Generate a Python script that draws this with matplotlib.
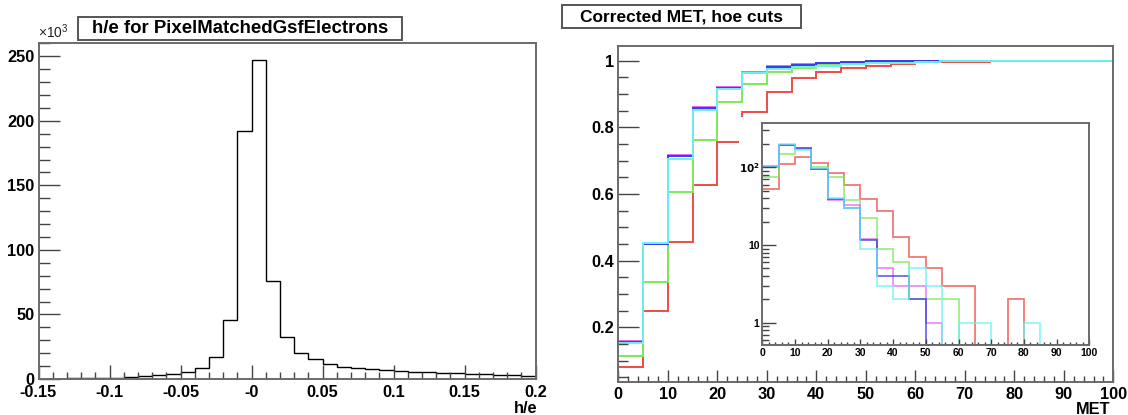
import numpy as np
import matplotlib.pyplot as plt
from matplotlib.patches import Rectangle
from matplotlib.ticker import MultipleLocator, LogLocator, NullFormatter

plt.rcParams['font.family'] = ['Liberation Sans', 'DejaVu Sans']
plt.rcParams['font.weight'] = 'bold'

# --- left panel: h/e histogram (x10^3 entries), 0.01 wide bins from -0.15 to 0.2
he_edges = np.round(np.arange(-0.15, 0.2001, 0.01), 3)
he_counts = [0, 0, 0.5, 0.5, 0.5, 0.6, 1.3, 2.0, 2.8, 3.6, 5.2, 8.8, 16.8, 46, 192,
             247, 75.6, 32.8, 19.9, 15.2, 11.6, 9.5, 8.8, 7.5, 6.7, 6.2, 5.4, 5.2,
             4.6, 4.4, 3.9, 3.6, 3.1, 2.8, 2.3]
he_xticks = [-0.15, -0.1, -0.05, 0, 0.05, 0.1, 0.15, 0.2]
he_xlabels = ['-0.15', '-0.1', '-0.05', '-0', '0.05', '0.1', '0.15', '0.2']

# --- right panel: MET, 5 GeV bins
met_edges = np.arange(0, 101, 5)
series = ['red', 'green', 'magenta', 'blue', 'cyan']
colors = {'red': '#ee4c46', 'green': '#7ee85c', 'magenta': '#e468f2',
          'blue': '#3a3aee', 'cyan': '#6cf2f2'}

# cumulative fraction (main plot)
cum_red = [0.080, 0.249, 0.455, 0.626, 0.755, 0.847, 0.905, 0.949, 0.967, 0.979,
           0.985, 0.990, 0.995, 0.996, 0.996, 1, 1, 1, 1, 1]
cum_green = [0.114, 0.335, 0.605, 0.762, 0.875, 0.931, 0.965, 0.978, 0.987, 0.992,
             0.995, 0.997, 1, 1, 1, 1, 1, 1, 1, 1]
cum_magenta = [0.158, 0.451, 0.717, 0.862, 0.920, 0.966, 0.983, 0.989, 0.993, 0.997,
               0.999, 1, 1, 1, 1, 1, 1, 1, 1, 1]
cum_blue = [0.157, 0.449, 0.714, 0.859, 0.917, 0.964, 0.980, 0.988, 0.993, 0.997,
            1, 1, 1, 1, 1, 1, 1, 1, 1, 1]
cum_cyan = [0.152, 0.452, 0.705, 0.853, 0.914, 0.962, 0.974, 0.980, 0.983, 0.990,
            0.994, 0.994, 0.996, 0.998, 0.998, 0.998, 1, 1, 1, 1]

# entries per bin (inset, log scale)
n_red = [53, 110, 135, 114, 85, 60, 39, 27, 12.7, 7, 5, 3, 3, 0, 0, 2, 0, 0, 0, 0]
n_green = [74, 147, 179, 102, 74, 38, 22, 9, 6, 2, 2, 2, 0, 0, 0, 0, 0, 0, 0, 0]
n_magenta = [105, 196, 172, 94, 38, 33, 12, 5, 3, 3, 1, 0, 0, 0, 0, 0, 0, 0, 0, 0]
n_blue = [102, 192, 176, 94, 39, 30, 11.6, 4, 4, 2, 0, 0, 0, 0, 0, 0, 0, 0, 0, 0]
n_cyan = [100, 198, 169, 99, 40, 30, 9, 3, 2, 5, 3, 0, 1, 1, 0, 0, 1, 0, 0, 0]

cum = {'red': cum_red, 'green': cum_green, 'magenta': cum_magenta,
       'blue': cum_blue, 'cyan': cum_cyan}
counts = {'red': n_red, 'green': n_green, 'magenta': n_magenta,
          'blue': n_blue, 'cyan': n_cyan}

W, H = 1128, 415
fig = plt.figure(figsize=(W / 100, H / 100), dpi=100)


def px_axes(x0, y0, x1, y1):
    # pixel box (top-left origin) -> figure axes
    return fig.add_axes([x0 / W, 1 - y1 / H, (x1 - x0) / W, (y1 - y0) / H])


def root_style(ax, fs):
    for s in ax.spines.values():
        s.set_color('#6a6a6a')
        s.set_linewidth(1.4)
    ax.tick_params(which='both', direction='in', top=False, right=False,
                   color='#444444', labelsize=fs, width=1.0)


# left panel
ax1 = px_axes(38.5, 43.3, 535.5, 379)
ax1.stairs(he_counts, he_edges, color='black', lw=1.0)
ax1.set_xlim(-0.15, 0.2)
ax1.set_ylim(0, 260)
root_style(ax1, 11.8)
ax1.set_xticks(he_xticks)
ax1.set_xticklabels(he_xlabels)
ax1.xaxis.set_minor_locator(MultipleLocator(0.01))
ax1.yaxis.set_major_locator(MultipleLocator(50))
ax1.yaxis.set_minor_locator(MultipleLocator(10))
ax1.tick_params(axis='x', which='major', length=10, pad=4)
ax1.tick_params(axis='x', which='minor', length=5)
ax1.tick_params(axis='y', which='major', length=15, pad=3)
ax1.tick_params(axis='y', which='minor', length=8)
fig.text(38 / W, 1 - 41 / H, r'$\mathregular{\times10^{3}}$', fontsize=10,
         ha='left', va='bottom', fontweight='normal', color='#222222')
fig.text(537 / W, 1 - 401 / H, 'h/e', fontsize=11.8, ha='right', va='top')

# right panel, main
ax2 = px_axes(618.3, 45.7, 1113.3, 381.7)
for name in series:
    ax2.stairs(cum[name], met_edges, baseline=None, color=colors[name], lw=1.4)
ax2.set_xlim(0, 100)
ax2.set_ylim(0.037, 1.045)
root_style(ax2, 11.8)
ax2.set_yticks([0.2, 0.4, 0.6, 0.8, 1.0])
ax2.set_yticklabels(['0.2', '0.4', '0.6', '0.8', '1'])
ax2.yaxis.set_minor_locator(MultipleLocator(0.05))
ax2.xaxis.set_major_locator(MultipleLocator(10))
ax2.xaxis.set_minor_locator(MultipleLocator(2))
ax2.tick_params(axis='x', which='major', length=9, pad=4)
ax2.tick_params(axis='x', which='minor', length=4)
ax2.tick_params(axis='y', which='major', length=15, pad=3)
ax2.tick_params(axis='y', which='minor', length=7.5)
fig.text(1110 / W, 1 - 402 / H, 'MET', fontsize=11.8, ha='right', va='top')

# white pad under the inset
pad = px_axes(739, 117, 1100, 362)
pad.set_facecolor('white')
pad.set_xticks([])
pad.set_yticks([])
for s in pad.spines.values():
    s.set_visible(False)

# inset, log scale
ax3 = px_axes(762.3, 123.3, 1089.3, 345)
ybot = 0.516
for name in series:
    vals = np.array(counts[name], dtype=float)
    vals = np.where(vals > 0, vals, ybot)
    ax3.stairs(vals, met_edges, baseline=None, color=colors[name], lw=1.3, alpha=0.75)
ax3.set_yscale('log')
ax3.set_xlim(0, 100)
ax3.set_ylim(ybot, 368)
root_style(ax3, 7.5)
ax3.set_yticks([1, 10, 100])
ax3.set_yticklabels(['1', '10', r'$\mathbf{10^{2}}$'])
ax3.yaxis.set_minor_locator(LogLocator(base=10, subs=np.arange(2, 10)))
ax3.yaxis.set_minor_formatter(NullFormatter())
ax3.xaxis.set_major_locator(MultipleLocator(10))
ax3.xaxis.set_minor_locator(MultipleLocator(2))
ax3.tick_params(axis='x', which='major', length=4, pad=2)
ax3.tick_params(axis='x', which='minor', length=2)
ax3.tick_params(axis='y', which='major', length=10, pad=2)
ax3.tick_params(axis='y', which='minor', length=5)

# title boxes
for (x0, y0, x1, y1), txt, fs in [((78, 17, 402, 40), 'h/e for PixelMatchedGsfElectrons', 13.4),
                                  ((562, 5, 801, 28), 'Corrected MET, hoe cuts', 12.5)]:
    fig.patches.append(Rectangle((x0 / W, 1 - y1 / H), (x1 - x0) / W, (y1 - y0) / H,
                                 transform=fig.transFigure, fill=False,
                                 edgecolor='#555555', lw=1.4))
    fig.text((x0 + x1) / 2 / W, 1 - (y0 + y1) / 2 / H, txt, fontsize=fs,
             ha='center', va='center')

fig.savefig('out.png', dpi=100)
